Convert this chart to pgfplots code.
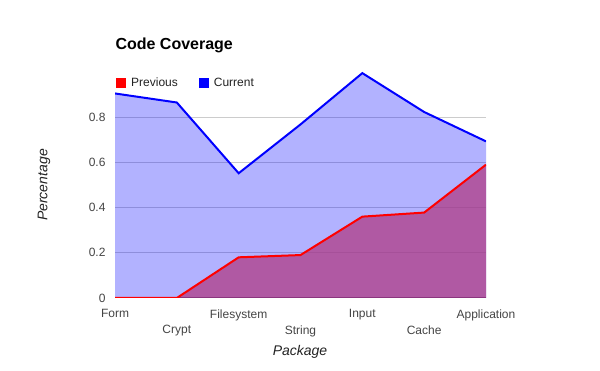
\documentclass[border=0pt]{standalone}
\usepackage{fontspec}
\setmainfont{Liberation Sans}
\usepackage{pgfplots}
\pgfplotsset{compat=1.18}
\definecolor{curline}{RGB}{0,0,255}
\definecolor{prevline}{RGB}{255,0,0}
\definecolor{prevfill}{RGB}{175,60,132}
\definecolor{txt}{RGB}{34,34,34}
\definecolor{ticktxt}{RGB}{68,68,68}
\begin{document}
\begin{tikzpicture}[x=1pt,y=1pt]
\useasboundingbox (0,0) rectangle (600,371);
\begin{axis}[
  at={(115pt,73pt)}, anchor=south west,
  scale only axis, width=371pt, height=226pt,
  xmin=0, xmax=6, ymin=0, ymax=1,
  axis line style={draw=none},
  major tick length=0pt,
  ytick={0.2,0.4,0.6,0.8},
  ymajorgrids, grid style={color=black!20, line width=0.8pt},
  extra y ticks={0},
  extra y tick style={grid=major, grid style={color=black!80, line width=1pt}},
  yticklabel style={font=\fontsize{12}{14}\selectfont, text=ticktxt, xshift=-6pt},
  /pgf/number format/assume math mode=true,
  xtick={0,2,4,6},
  xticklabels={Form,Filesystem,Input,Application},
  extra x ticks={1,3,5},
  extra x tick labels={Crypt,String,Cache},
  extra x tick style={xticklabel style={yshift=-16pt}},
  xticklabel style={font=\fontsize{12}{14}\selectfont, text=ticktxt, yshift=-8pt},
  legend style={at={(0,0.951)}, anchor=west, draw=none, fill=none,
    legend columns=2, inner sep=0pt, font=\fontsize{12}{14}\selectfont,
    text=txt,
    /tikz/every even column/.append style={column sep=18pt}},
  legend cell align=left,
]
\addlegendimage{legend image code/.code={\fill[prevline, draw=none] (1pt,-5pt) rectangle (11pt,5pt); \path[draw=none, fill=none] (0pt,0pt) rectangle (14pt,0.1pt);}}
\addlegendentry{Previous}
\addlegendimage{legend image code/.code={\fill[curline, draw=none] (1pt,-5pt) rectangle (11pt,5pt); \path[draw=none, fill=none] (0pt,0pt) rectangle (14pt,0.1pt);}}
\addlegendentry{Current}
\addplot[draw=none, fill=curline, fill opacity=0.3, forget plot] coordinates {
 (0,0.905) (1,0.865) (2,0.552) (3,0.768) (4,0.995) (5,0.823) (6,0.693) (6,0) (0,0)} \closedcycle;
\addplot[draw=none, fill=prevfill, fill opacity=0.75, forget plot] coordinates {
 (0,0) (1,0) (2,0.18) (3,0.19) (4,0.36) (5,0.378) (6,0.59) (6,0) (0,0)} \closedcycle;
\addplot[curline, line width=2pt, forget plot] coordinates {
 (0,0.905) (1,0.865) (2,0.552) (3,0.768) (4,0.995) (5,0.823) (6,0.693)};
\addplot[prevline, line width=2pt, forget plot] coordinates {
 (0,0) (1,0) (2,0.18) (3,0.19) (4,0.36) (5,0.378) (6,0.59)};
\end{axis}
\node[anchor=west, font=\fontsize{16}{18}\selectfont\bfseries, text=black] at (112,326) {Code Coverage};
\node[rotate=90, font=\fontsize{14}{16}\selectfont\itshape, text=txt] at (44,186) {Percentage};
\node[font=\fontsize{14}{16}\selectfont\itshape, text=txt] at (300,19) {Package};
\end{tikzpicture}
\end{document}
